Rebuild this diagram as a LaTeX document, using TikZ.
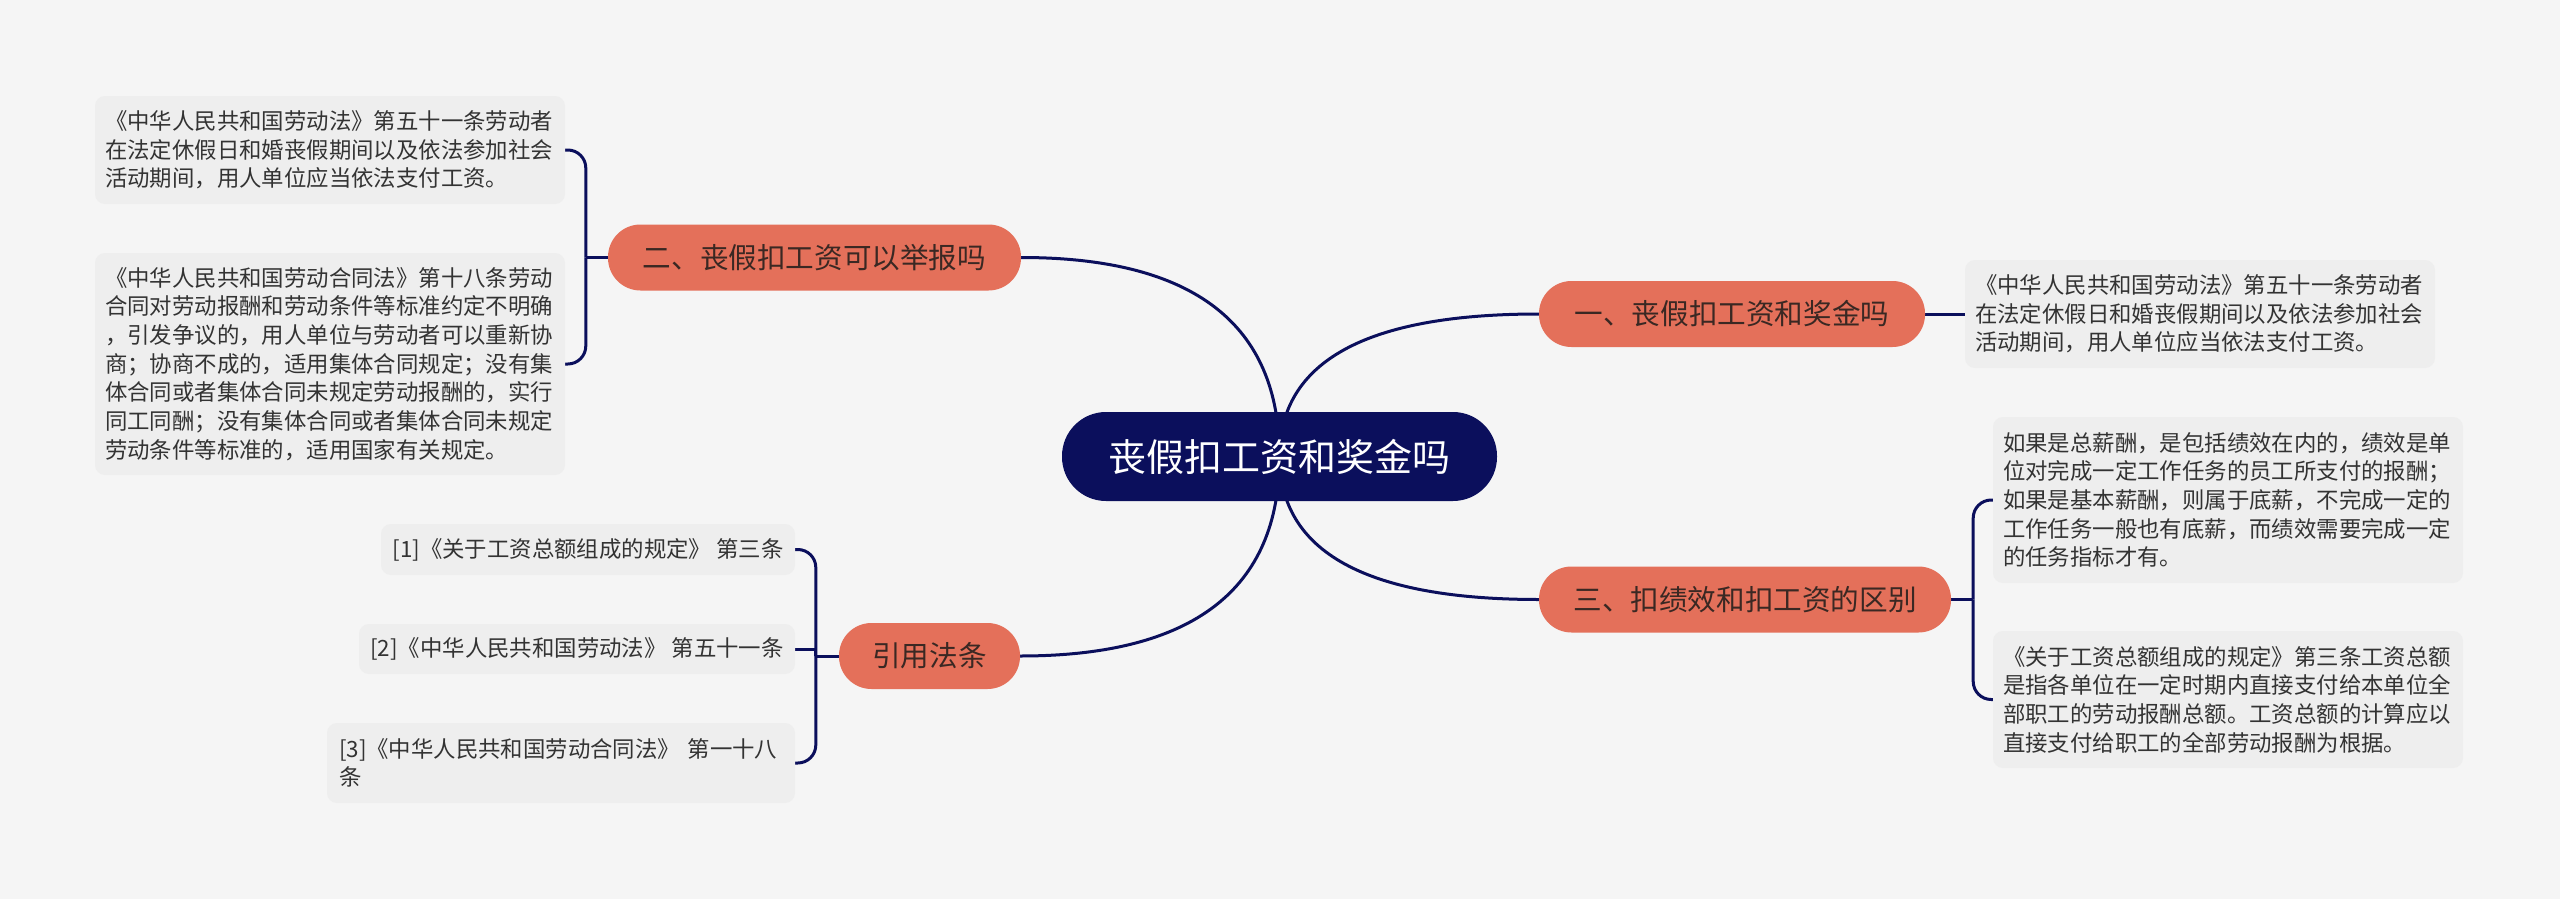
\documentclass[tikz,border=0pt]{standalone}
\usepackage{fontspec}
\setmainfont{Noto Sans CJK SC}
\usetikzlibrary{calc,backgrounds}
\definecolor{bgc}{HTML}{F5F5F5}
\definecolor{navy}{HTML}{0B0F5C}
\definecolor{orng}{HTML}{E4705A}
\definecolor{leafc}{HTML}{EEEEEE}
\definecolor{txt}{HTML}{333333}
\definecolor{otxt}{HTML}{3A2823}
\begin{document}
\begin{tikzpicture}[x=1pt,y=-1pt,
  rootbox/.style={fill=navy,text=white,rounded corners=44pt,minimum width=435pt,minimum height=89pt,inner sep=0pt,font=\fontsize{38}{46}\selectfont},
  branch/.style={fill=orng,text=otxt,rounded corners=32.5pt,minimum height=66pt,inner sep=0pt,font=\fontsize{28.6}{34}\selectfont},
  leaf/.style={fill=leafc,text=txt,rounded corners=10pt,inner xsep=10pt,inner ysep=6pt,align=left,font=\fontsize{22.4}{28.7}\selectfont},
  conn/.style={draw=navy,line width=3pt},
  brk/.style={draw=navy,line width=3pt,rounded corners=18pt}]
\begin{scope}[on background layer]
\fill[bgc] (0,0) rectangle (2560,899);
\end{scope}
\useasboundingbox (0,0) rectangle (2560,899);

% main nodes
\node[rootbox] (root) at (1279.5,456.5) {丧假扣工资和奖金吗};
\node[branch,minimum width=386pt] (b1) at (1732,314) {一、丧假扣工资和奖金吗};
\node[branch,minimum width=413pt] (b2) at (814.5,257.5) {二、丧假扣工资可以举报吗};
\node[branch,minimum width=412pt] (b3) at (1745,599.5) {三、扣绩效和扣工资的区别};
\node[branch,minimum width=181pt] (b4) at (929.5,656) {引用法条};

% leaves
\node[leaf,text width=450pt,minimum height=108pt] (l1) at (2200,314) {《中华人民共和国劳动法》第五十一条劳动者\\在法定休假日和婚丧假期间以及依法参加社会\\活动期间，用人单位应当依法支付工资。};
\node[leaf,text width=450pt,minimum height=108pt] (l2a) at (330,150) {《中华人民共和国劳动法》第五十一条劳动者\\在法定休假日和婚丧假期间以及依法参加社会\\活动期间，用人单位应当依法支付工资。};
\node[leaf,text width=450pt,minimum height=222pt] (l2b) at (330,364) {《中华人民共和国劳动合同法》第十八条劳动\\合同对劳动报酬和劳动条件等标准约定不明确\\，引发争议的，用人单位与劳动者可以重新协\\商；协商不成的，适用集体合同规定；没有集\\体合同或者集体合同未规定劳动报酬的，实行\\同工同酬；没有集体合同或者集体合同未规定\\劳动条件等标准的，适用国家有关规定。};
\node[leaf,text width=450pt,minimum height=166pt] (l3a) at (2228,500) {如果是总薪酬，是包括绩效在内的，绩效是单\\位对完成一定工作任务的员工所支付的报酬；\\如果是基本薪酬，则属于底薪，不完成一定的\\工作任务一般也有底薪，而绩效需要完成一定\\的任务指标才有。};
\node[leaf,text width=450pt,minimum height=137pt] (l3b) at (2228,699.5) {《关于工资总额组成的规定》第三条工资总额\\是指各单位在一定时期内直接支付给本单位全\\部职工的劳动报酬总额。工资总额的计算应以\\直接支付给职工的全部劳动报酬为根据。};
\node[leaf,minimum width=414pt,minimum height=51pt] (l4a) at (588,549.5) {[1]《关于工资总额组成的规定》 第三条};
\node[leaf,minimum width=436pt,minimum height=50pt] (l4b) at (577,649) {[2]《中华人民共和国劳动法》 第五十一条};
\node[leaf,text width=444pt,inner xsep=12pt,minimum height=80pt] (l4c) at (561,763) {[3]《中华人民共和国劳动合同法》 第一十八\\条};

% junctions
\coordinate (j2) at ($(b2.west)+(-22,0)$);
\coordinate (j3) at ($(b3.east)+(22,0)$);
\coordinate (j4) at ($(b4.west)+(-23,0)$);
\coordinate (q1) at (root.center |- b1.west);
\coordinate (q2) at (root.center |- b2.east);
\coordinate (q3) at (root.center |- b3.west);
\coordinate (q4) at (root.center |- b4.east);

\begin{scope}[on background layer]
\draw[conn] (root.center) .. controls ($(root.center)!2/3!(q1)$) and ($(b1.west)!2/3!(q1)$) .. (b1.west);
\draw[conn] (root.center) .. controls ($(root.center)!2/3!(q2)$) and ($(b2.east)!2/3!(q2)$) .. (b2.east);
\draw[conn] (root.center) .. controls ($(root.center)!2/3!(q3)$) and ($(b3.west)!2/3!(q3)$) .. (b3.west);
\draw[conn] (root.center) .. controls ($(root.center)!2/3!(q4)$) and ($(b4.east)!2/3!(q4)$) .. (b4.east);

\draw[conn] (b1.east) -- (l1.west);

\draw[conn] (b2.west) -- (j2);
\draw[brk] (j2) |- (l2a.east);
\draw[brk] (j2) |- (l2b.east);

\draw[conn] (b3.east) -- (j3);
\draw[brk] (j3) |- (l3a.west);
\draw[brk] (j3) |- (l3b.west);

\draw[conn] (b4.west) -- (j4);
\draw[brk] (j4) |- (l4a.east);
\draw[conn] (j4) |- (l4b.east);
\draw[brk] (j4) |- (l4c.east);
\end{scope}
\end{tikzpicture}
\end{document}
